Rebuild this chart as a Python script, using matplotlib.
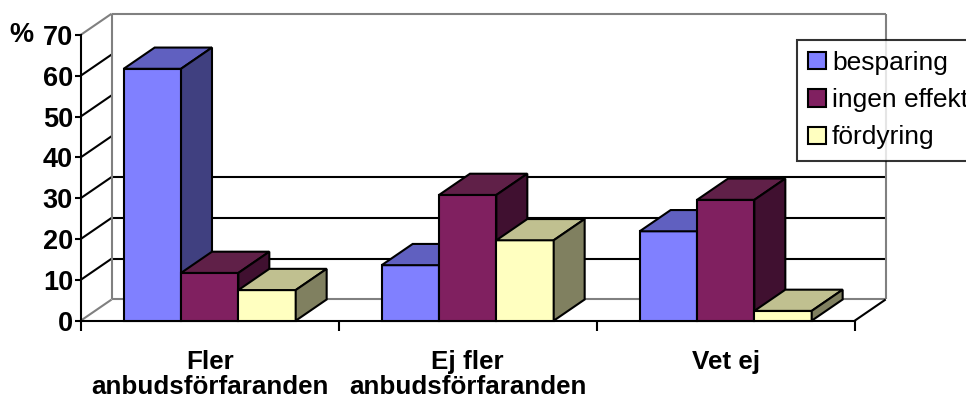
import matplotlib
matplotlib.use("Agg")
import matplotlib.pyplot as plt
from matplotlib.patches import Polygon, Patch

plt.rcParams['font.family'] = ['Liberation Sans', 'DejaVu Sans']

categories = ["Fler\nanbudsförfaranden", "Ej fler\nanbudsförfaranden", "Vet ej"]
series_names = ["besparing", "ingen effekt", "fördyring"]
besparing = [61.7, 13.6, 21.9]
ingen_effekt = [11.7, 30.8, 29.6]
fordyring = [7.5, 19.7, 2.4]
y_ticks = [0, 10, 20, 30, 40, 50, 60, 70]
y_label = "%"

series_values = [besparing, ingen_effekt, fordyring]
# front, top, side shades for each series
shades = [
    ("#8080FF", "#6060C0", "#404080"),
    ("#802060", "#602048", "#401030"),
    ("#FFFFC0", "#C0C090", "#808060"),
]

W, H, DPI = 966, 403, 100
fig = plt.figure(figsize=(W / DPI, H / DPI), dpi=DPI)
fig.patch.set_facecolor("white")

# axes = front plane of the 3D box
ax = fig.add_axes([80.7 / W, (H - 320.7) / H, 774 / W, 285.8 / H])
ax.patch.set_visible(False)
n_cat = len(categories)
ymax = y_ticks[-1]
ax.set_xlim(0, n_cat)
ax.set_ylim(0, ymax)

# oblique depth of the box, in data units
dx, dy = 0.12, 5.2
grey = "#808080"
lw = 1.5

def line(xs, ys, color="black"):
    ax.plot(xs, ys, color=color, lw=lw, clip_on=False, zorder=1,
            solid_capstyle="butt")

# walls
for v in y_ticks:
    line([0, dx], [v, v + dy], grey if v in (0, ymax) else "black")
for v in (10, 20, 30):
    line([dx, n_cat + dx], [v + dy, v + dy])
line([dx, n_cat + dx], [dy, dy], grey)
line([dx, dx], [dy, ymax + dy], grey)
line([dx, n_cat + dx], [ymax + dy, ymax + dy], grey)
line([n_cat + dx, n_cat + dx], [dy, ymax + dy], grey)
line([n_cat, n_cat + dx], [0, dy])

# bars
n_ser = len(series_values)
bar_w = (2 / 3) / n_ser
for i in range(n_cat):
    x0 = i + 0.5 - bar_w * n_ser / 2
    for s in range(n_ser):
        h = series_values[s][i]
        x = x0 + s * bar_w
        front, top, side = shades[s]
        z = 3 + i * n_ser + s
        faces = [
            ([(x, 0), (x + bar_w, 0), (x + bar_w, h), (x, h)], front),
            ([(x, h), (x + bar_w, h), (x + bar_w + dx, h + dy), (x + dx, h + dy)], top),
            ([(x + bar_w, 0), (x + bar_w + dx, dy), (x + bar_w + dx, h + dy), (x + bar_w, h)], side),
        ]
        for pts, col in faces:
            ax.add_patch(Polygon(pts, closed=True, facecolor=col, edgecolor="black",
                                 lw=lw, joinstyle="miter", clip_on=False, zorder=z))

# axes styling
for sp in ("top", "right"):
    ax.spines[sp].set_visible(False)
for sp in ("left", "bottom"):
    ax.spines[sp].set_linewidth(lw)
    ax.spines[sp].set_zorder(2)

ax.set_yticks(y_ticks)
ax.set_yticklabels([str(v) for v in y_ticks], fontsize=19.5, fontweight="bold")
ax.tick_params(axis="y", direction="out", length=4, width=lw, pad=1.5)

ax.set_xticks(range(n_cat + 1))
ax.set_xticklabels([])
ax.tick_params(axis="x", which="major", direction="out", length=7, width=lw)
ax.set_xticks([i + 0.5 for i in range(n_cat)], minor=True)
ax.set_xticklabels(categories, minor=True, fontsize=18.7, fontweight="bold",
                   linespacing=1.05)
ax.tick_params(axis="x", which="minor", length=0, pad=21)

ax.annotate(y_label, xy=(0, ymax), xytext=(-47, 0), textcoords="offset pixels",
            ha="right", va="center", fontsize=19.5, fontweight="bold")

handles = [Patch(facecolor=shades[s][0], edgecolor="black", lw=lw) for s in range(n_ser)]
leg = fig.legend(handles, series_names, loc="upper left",
                 bbox_to_anchor=(797 / W, 1 - 40 / H), borderaxespad=0,
                 fontsize=19, frameon=True, fancybox=False, shadow=False,
                 handlelength=0.66, handleheight=0.62, handletextpad=0.25,
                 labelspacing=0.5, borderpad=0.42)
leg.get_frame().set_edgecolor("black")
leg.get_frame().set_linewidth(lw)

fig.savefig("out.png", dpi=DPI, facecolor="white")
